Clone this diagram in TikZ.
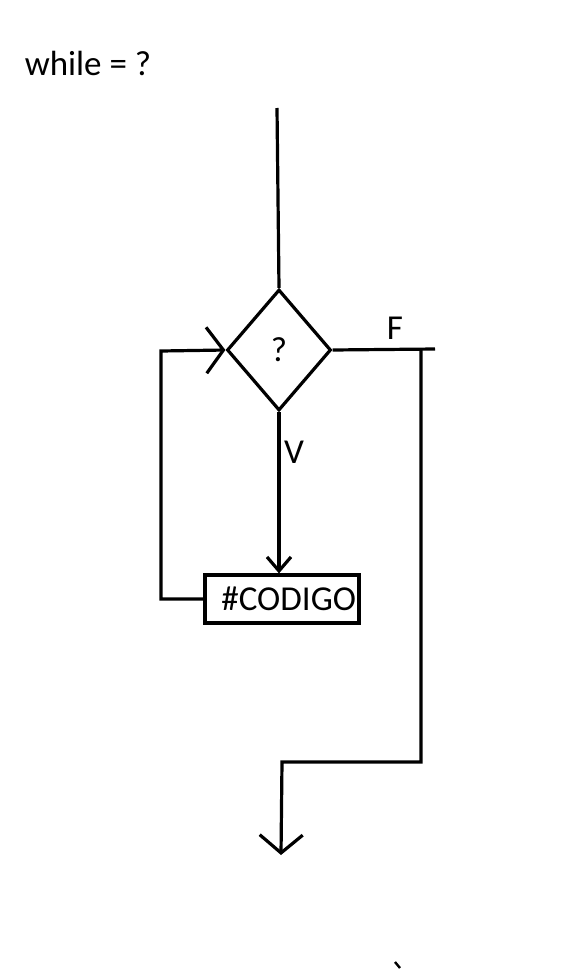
\documentclass[tikz,border=0pt]{standalone}
\usepackage{fontspec}
\setmainfont{Carlito}
\usetikzlibrary{arrows.meta, shapes.geometric}

\begin{document}
\begin{tikzpicture}[
  x=1pt, y=-1pt,
  line width=3.2pt,
  txt/.style={font=\fontsize{35}{40}\selectfont, inner sep=0pt},
  decision/.style={draw, diamond, inner sep=0pt, minimum width=104pt, minimum height=121pt, font=\fontsize{35}{40}\selectfont},
  box/.style={draw, rectangle, inner ysep=0pt, inner xsep=3pt, text width=148pt, align=right, minimum height=48pt, font=\fontsize{35}{40}\selectfont},
  arrow/.style={-{Straight Barb[length=14pt, width=24pt, line width=3.2pt]}},
  looparrow/.style={-{Straight Barb[length=17pt, width=46pt, line width=3.2pt]}},
  exitarrow/.style={-{Straight Barb[length=18pt, width=43pt, line width=3.2pt]}}
]
\useasboundingbox[fill=white] (0,0) rectangle (586,972);

\node[txt] (title) at (88,63) {while = ?};
\node[decision] (cond) at (279,350) {?};
\node[box] (code) at (282,599) {\#CODIGO};
\node[txt] (flabel) at (395,328) {F};
\node[txt] (vlabel) at (294,452) {V};

\coordinate (start) at (277,108);
\coordinate (loop) at (161,351);
\coordinate (ftop) at (421,349);
\coordinate (fend) at (435,349);
\coordinate (fbot) at (421,762);
\coordinate (merge) at (282,762);
\coordinate (exit) at (281,855);

% entrada
\draw (start) -- (cond.north);
% verdadero
\draw[arrow] (cond.south) -- (cond.south |- code.north);
\draw[looparrow] (code.west) -| (loop) -- (cond.west);
% falso
\draw (cond.east) -- (fend);
\draw[exitarrow] (ftop) -- (fbot) -- (merge) -- (exit);

\draw[line width=2.4pt] (395,962) -- (400,968);
\end{tikzpicture}
\end{document}
